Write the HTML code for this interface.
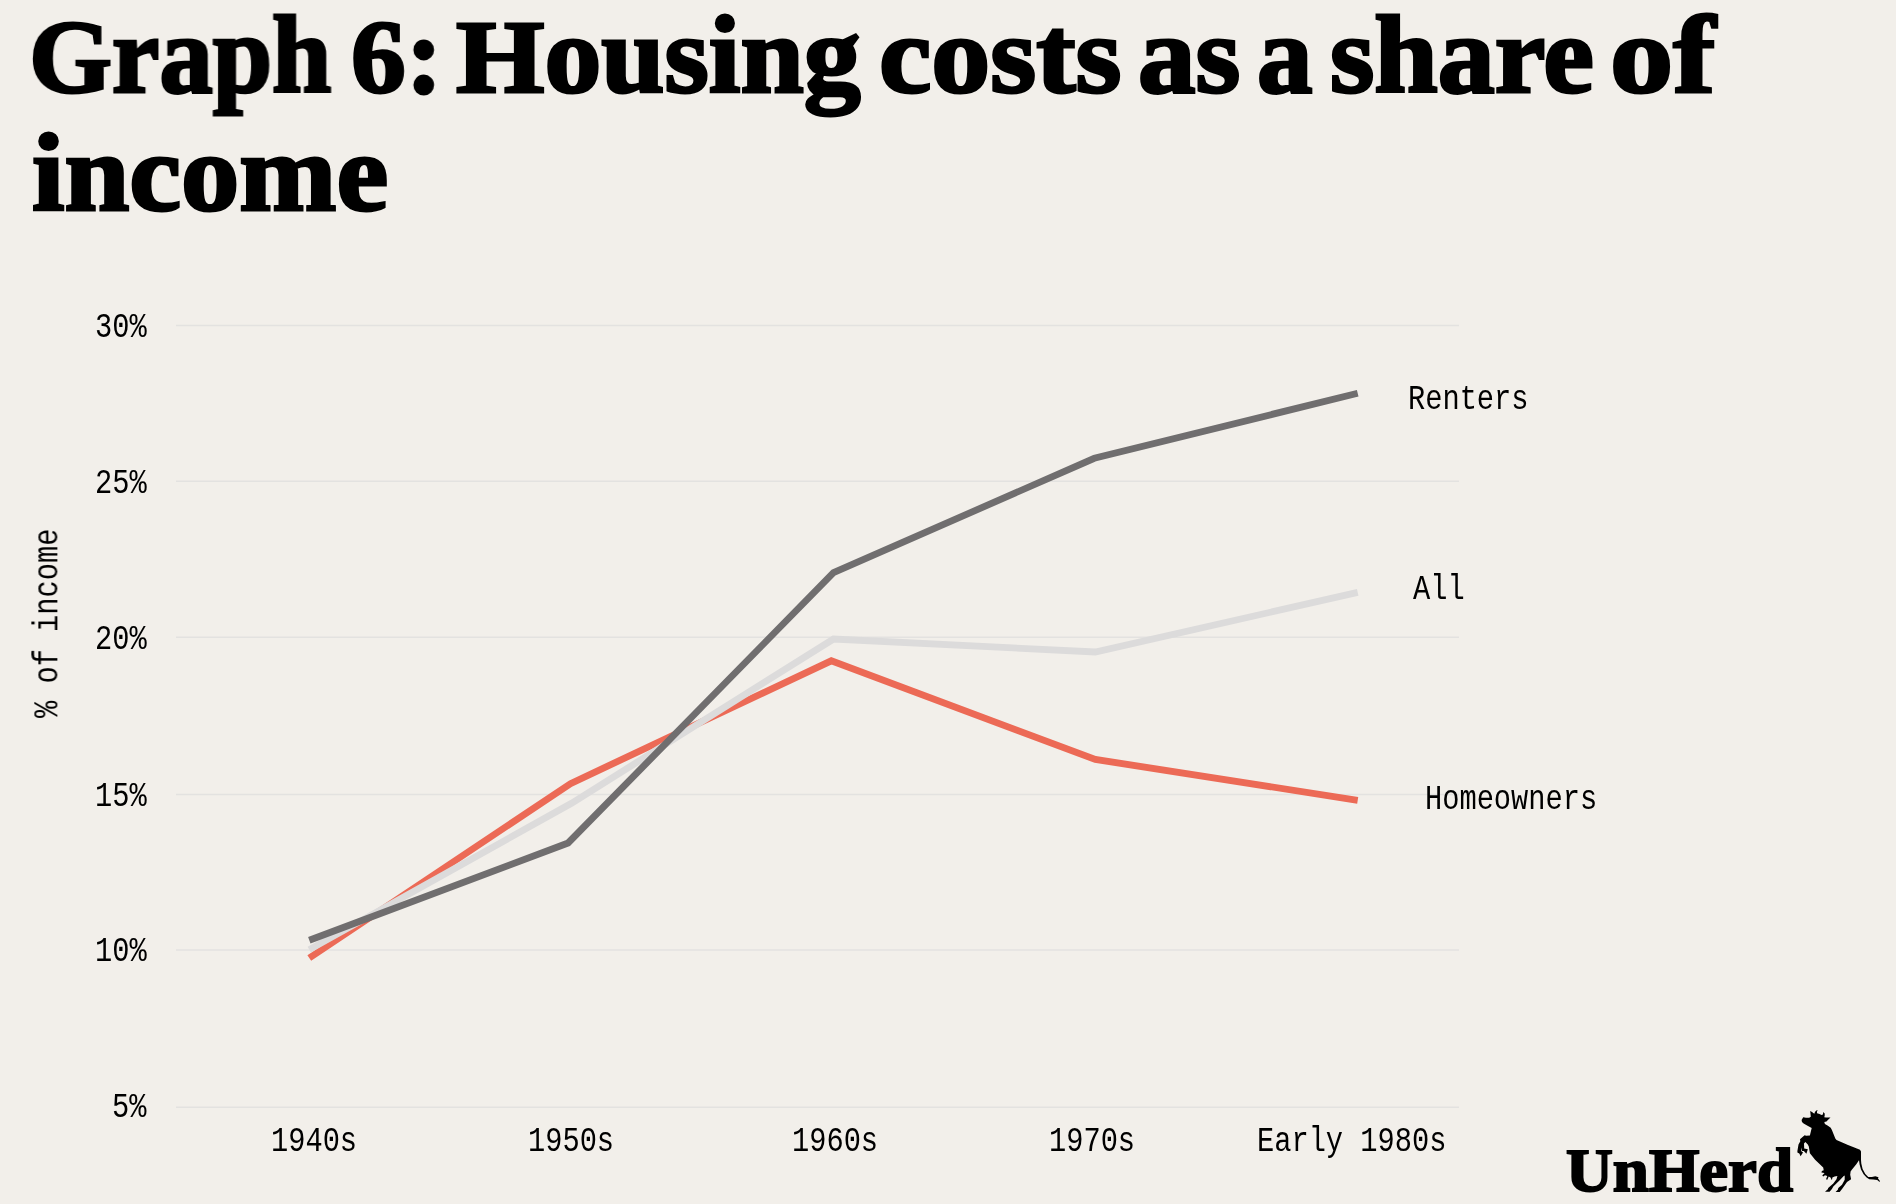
<!DOCTYPE html>
<html><head><meta charset="utf-8">
<style>
html,body{margin:0;padding:0;}
body{width:1896px;height:1204px;background:#f2efea;position:relative;overflow:hidden;}
.t{position:absolute;will-change:transform;font-family:"Liberation Serif",serif;font-weight:bold;color:#000;white-space:nowrap;line-height:1;transform-origin:0 0;-webkit-text-stroke:3px #000;}
.m{position:absolute;font-family:"Liberation Mono",monospace;color:#000;white-space:nowrap;line-height:1;font-size:28.7px;transform-origin:0 0;transform:scaleY(1.21);will-change:transform;-webkit-text-stroke:0px #000;}
.k{position:absolute;will-change:transform;font-family:"Liberation Serif",serif;font-weight:bold;color:#000;white-space:nowrap;line-height:1;transform-origin:0 0;-webkit-text-stroke:2px #000;}
svg{position:absolute;left:0;top:0;}
</style></head><body>

<div class="t" style="left:28.82px;top:-0.50px;font-size:110px;transform:scale(0.9698,1.0)"><span style="display:inline-block;transform:scaleY(0.94);transform-origin:50% 92px">G</span>raph</div>
<div class="t" style="left:351.00px;top:-0.50px;font-size:110px;transform:scale(0.9975,1.0)"><span style="display:inline-block;transform:scaleY(0.94);transform-origin:50% 92px">6</span>:</div>
<div class="t" style="left:456.10px;top:-0.50px;font-size:110px;transform:scale(1.0339,1.0)"><span style="display:inline-block;transform:scaleY(0.94);transform-origin:50% 92px">H</span>ousing</div>
<div class="t" style="left:878.65px;top:-0.50px;font-size:110px;transform:scale(1.0726,1.0)">costs</div>
<div class="t" style="left:1137.81px;top:-0.50px;font-size:110px;transform:scale(1.0463,1.0)">as</div>
<div class="t" style="left:1257.18px;top:-0.50px;font-size:110px;transform:scale(1.0094,1.0)">a</div>
<div class="t" style="left:1330.23px;top:-0.50px;font-size:110px;transform:scale(1.0363,1.0)">share</div>
<div class="t" style="left:1609.85px;top:-0.50px;font-size:110px;transform:scale(1.1484,1.0)">of</div>
<div class="t" style="left:31.64px;top:118.10px;font-size:110px;transform:scale(1.0599,1.0)">income</div>
<svg width="1896" height="1204" viewBox="0 0 1896 1204">
<g stroke="#e3e2e0" stroke-width="1.5">
<line x1="176" y1="325.5" x2="1459" y2="325.5"/>
<line x1="176" y1="481.3" x2="1459" y2="481.3"/>
<line x1="176" y1="637.3" x2="1459" y2="637.3"/>
<line x1="176" y1="794.4" x2="1459" y2="794.4"/>
<line x1="176" y1="950" x2="1459" y2="950"/>
<line x1="176" y1="1107.2" x2="1459" y2="1107.2"/>
</g>
<g fill="none" stroke-width="6.8" stroke-linejoin="miter" stroke-linecap="butt">
<polyline stroke="#ec6a56" points="309.3,958 570.5,783.6 831.3,660.8 1095.3,759.4 1357.7,800.3"/>
<polyline stroke="#dcdbdb" points="309.3,949.6 571.5,803.3 833.5,639 1095.3,652.0 1357.7,592.4"/>
<polyline stroke="#706e6f" points="309.3,940.3 568.1,843.0 833.5,572.7 1094.3,458.3 1357.7,393.2"/>
</g>
<g transform="translate(0,0) scale(1)"><path fill="#000" d="M1803.2,1117.2 L1806,1117.8 L1809.2,1117.8 L1810.8,1116.8 L1810.2,1111.1 L1812,1112 L1814.3,1113.8 L1815.1,1111.8 L1816.7,1110.2 L1817.8,1110.5 L1816.9,1111.6 L1817.1,1113.2 L1819.5,1114 L1821.5,1115 L1822.9,1114.4 L1823.3,1112 L1824.7,1113.6 L1824.7,1115.6 L1824.3,1117.2 L1825.9,1117.4 L1830.5,1117.4 L1827.9,1120 L1826.5,1121.5 L1824.3,1122 L1824.9,1124 L1827.9,1125.7 L1830.7,1127.7 L1831.9,1130 L1833.5,1134 L1835.3,1138.6 L1836.5,1140 L1848,1145 L1860,1149.8 L1861,1151.6 L1861,1160 L1861.3,1163.6 L1862.6,1168.9 L1865.3,1173.9 L1868.3,1176.9 L1871.9,1176.9 L1875.3,1176.2 L1878.6,1177.2 L1877.9,1178.2 L1879.9,1180.9 L1879.6,1181.9 L1877.2,1179.9 L1873.3,1179.6 L1869.3,1179.2 L1866.6,1177.6 L1863.6,1174.2 L1861,1169.6 L1859.6,1164.6 L1859,1160.3 L1856.3,1164.3 L1852,1169.6 L1850.6,1171.5 L1850.2,1174.7 L1851.1,1179.3 L1847,1182 L1842.4,1188.4 L1839.7,1192.1 L1835.6,1191.9 L1837.8,1189.8 L1838.3,1188 L1842,1184.8 L1844.7,1179.7 L1844.7,1176.1 L1844.2,1175.6 L1839.7,1180.2 L1833.3,1186.6 L1831.9,1188.9 L1829.6,1191.8 L1825,1191.8 L1827.8,1189.3 L1828.2,1188 L1833.3,1183.4 L1836.5,1179.3 L1837.4,1176.1 L1834.6,1176.5 L1832.4,1177.5 L1831.9,1180.2 L1830.5,1177.5 L1828.7,1176.5 L1827.3,1179.7 L1826,1179.3 L1827.3,1176.1 L1825,1175.2 L1823.2,1176.5 L1822.3,1175.6 L1824.6,1172.9 L1821.4,1172.4 L1821.9,1171.1 L1823.7,1170.2 L1823.2,1167.4 L1815.1,1159.8 L1809.9,1153.2 L1808.8,1146.6 L1807.8,1144.5 L1805.4,1142.1 L1804,1143.4 L1804.2,1148.5 L1807.8,1149.3 L1806.4,1153.8 L1803.8,1150.9 L1802,1151 L1801.6,1147.5 L1801.1,1151 L1803,1152.4 L1800.6,1156.2 L1799.3,1153.5 L1797.4,1152.4 L1797.4,1151.1 L1798.5,1144.5 L1800.3,1141.3 L1800,1139.2 L1804.6,1135.2 L1806.2,1135.7 L1809.9,1135.4 L1811.7,1128 L1808,1126 L1803.6,1123.5 L1802,1122 L1801.6,1120 Z"/></g>
</svg>
<div class="m" style="left:94.80px;top:312.00px;">30%</div>
<div class="m" style="left:94.80px;top:467.60px;">25%</div>
<div class="m" style="left:94.80px;top:623.60px;">20%</div>
<div class="m" style="left:94.80px;top:780.80px;">15%</div>
<div class="m" style="left:94.80px;top:936.40px;">10%</div>
<div class="m" style="left:112.00px;top:1092.00px;">5%</div>
<div class="m" style="left:271.00px;top:1125.60px;">1940s</div>
<div class="m" style="left:528.00px;top:1125.60px;">1950s</div>
<div class="m" style="left:792.00px;top:1125.60px;">1960s</div>
<div class="m" style="left:1049.00px;top:1125.60px;">1970s</div>
<div class="m" style="left:1257.40px;top:1126.10px;">Early 1980s</div>
<div class="m" style="left:1407.80px;top:383.60px;">Renters</div>
<div class="m" style="left:1412.80px;top:574.30px;">All</div>
<div class="m" style="left:1425.40px;top:784.20px;">Homeowners</div>
<div class="m" style="left:32.30px;top:717.60px;transform:rotate(-90deg) scaleY(1.21)">% of income</div>
<div class="k" style="left:1565.95px;top:1138.90px;font-size:62px;transform:scale(1.0458,1)">UnHerd</div>
</body></html>
